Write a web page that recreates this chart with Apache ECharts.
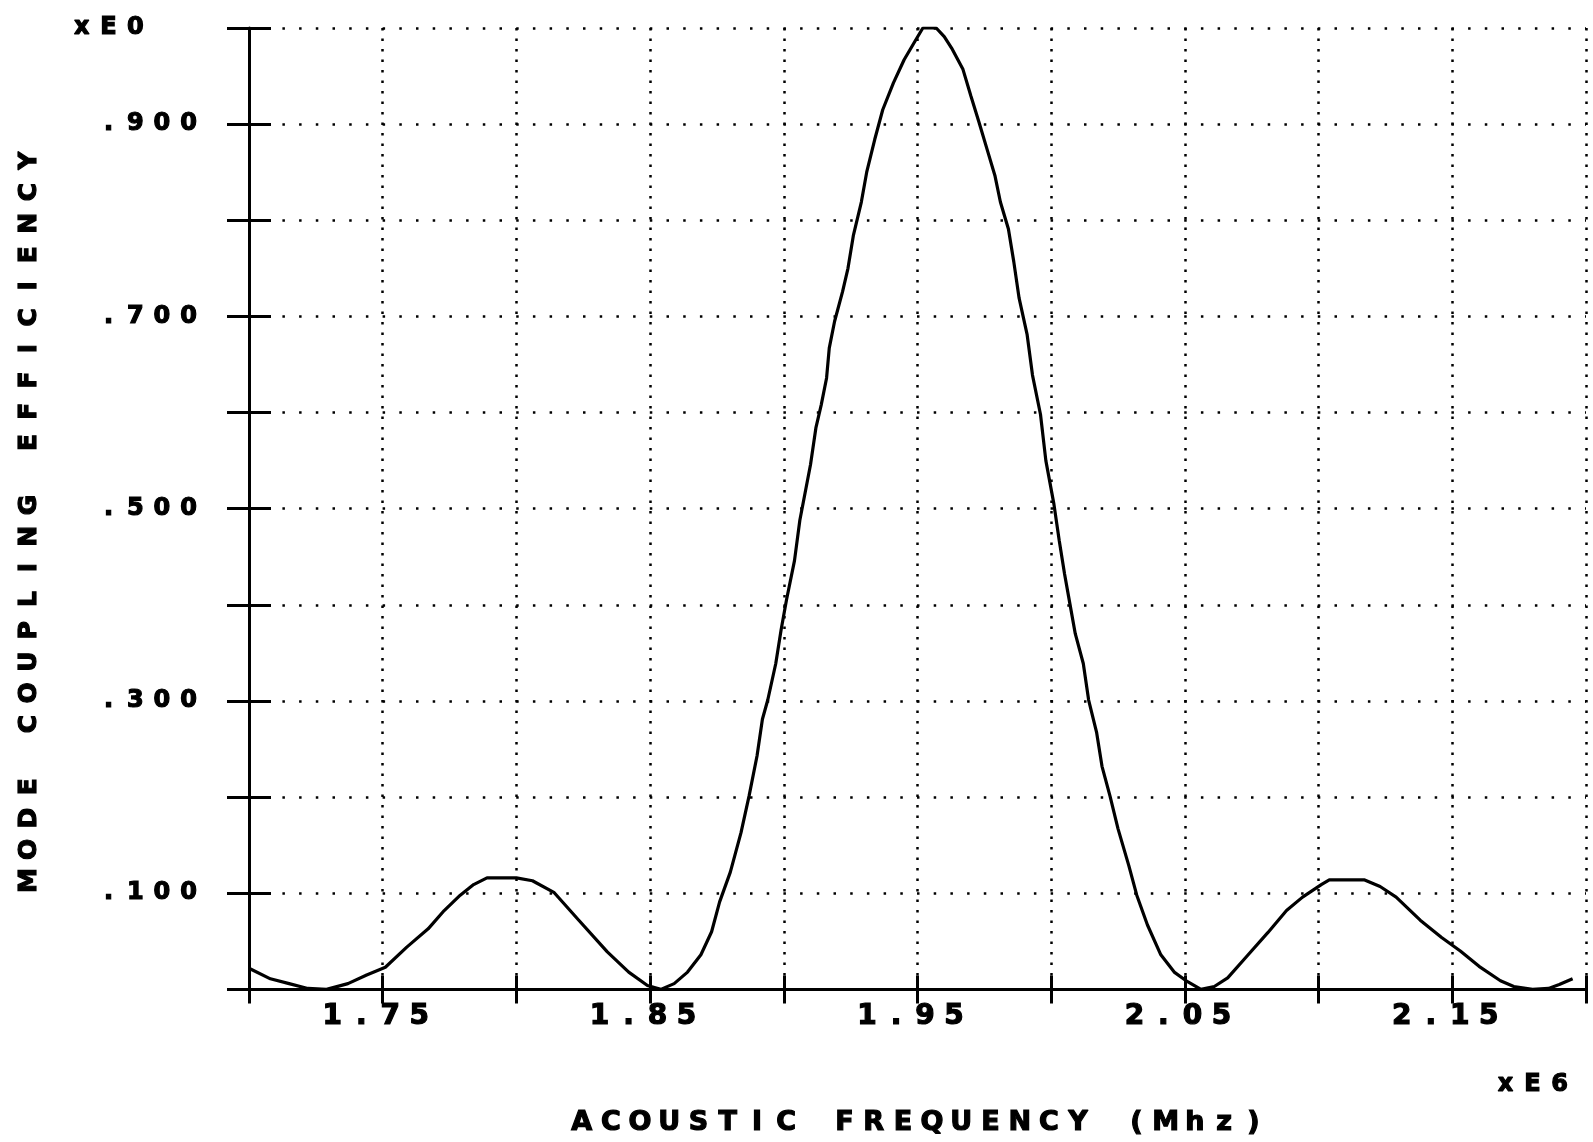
<!DOCTYPE html>
<html>
<head>
<meta charset="utf-8">
<script src="https://cdn.jsdelivr.net/npm/echarts@6/dist/echarts.min.js"></script>
<style>
  html, body { margin: 0; padding: 0; background: #fff; }
  #chart { width: 1593px; height: 1142px; }
</style>
</head>
<body>
<div id="chart"></div>
<script>
// Acoustic frequency (x1e6 Hz) and mode coupling efficiency
const freq = [
  1.700, 1.708, 1.715, 1.722, 1.729, 1.737, 1.744, 1.751, 1.759, 1.767,
  1.773, 1.779, 1.784, 1.789, 1.800, 1.806, 1.814, 1.823, 1.834, 1.842,
  1.849, 1.854, 1.859, 1.864, 1.869, 1.873, 1.876, 1.880, 1.884, 1.887,
  1.890, 1.892, 1.894, 1.897, 1.899, 1.901, 1.904, 1.906, 1.910, 1.912,
  1.914, 1.916, 1.917, 1.919, 1.922, 1.924, 1.926, 1.929, 1.931, 1.934,
  1.937, 1.941, 1.945, 1.949, 1.952, 1.957, 1.960, 1.963, 1.967, 1.970,
  1.973, 1.976, 1.979, 1.981, 1.984, 1.986, 1.988, 1.991, 1.993, 1.996,
  1.998, 2.001, 2.003, 2.005, 2.007, 2.009, 2.012, 2.014, 2.017, 2.019,
  2.022, 2.025, 2.029, 2.032, 2.036, 2.041, 2.046, 2.051, 2.056, 2.061,
  2.066, 2.073, 2.081, 2.088, 2.094, 2.101, 2.104, 2.117, 2.123, 2.129,
  2.138, 2.146, 2.153, 2.160, 2.168, 2.173, 2.180, 2.186, 2.190, 2.195
];
const eff = [
  0.022, 0.011, 0.006, 0.001, 0.000, 0.006, 0.015, 0.023, 0.044, 0.063,
  0.082, 0.098, 0.109, 0.116, 0.116, 0.113, 0.101, 0.073, 0.039, 0.018,
  0.004, 0.000, 0.006, 0.018, 0.036, 0.060, 0.091, 0.122, 0.163, 0.201,
  0.243, 0.281, 0.301, 0.339, 0.374, 0.405, 0.446, 0.488, 0.546, 0.584,
  0.608, 0.636, 0.667, 0.695, 0.726, 0.750, 0.784, 0.819, 0.850, 0.884,
  0.915, 0.943, 0.967, 0.986, 1.000, 1.000, 0.991, 0.978, 0.957, 0.929,
  0.902, 0.874, 0.846, 0.819, 0.791, 0.757, 0.719, 0.681, 0.639, 0.598,
  0.550, 0.505, 0.467, 0.432, 0.401, 0.370, 0.339, 0.301, 0.267, 0.232,
  0.201, 0.167, 0.129, 0.098, 0.067, 0.036, 0.018, 0.008, 0.000, 0.003,
  0.012, 0.034, 0.059, 0.082, 0.096, 0.109, 0.114, 0.114, 0.107, 0.096,
  0.072, 0.054, 0.040, 0.024, 0.009, 0.003, 0.000, 0.001, 0.005, 0.011
];
// Tick labels
const xLabelTexts = ['1.75', '1.85', '1.95', '2.05', '2.15'];
const yLabelTexts = ['.100', '.300', '.500', '.700', '.900'];
const yTopLabel = 'xE0';
const xScaleLabel = 'xE6';
const xTitle = 'ACOUSTIC FREQUENCY (Mhz)';
const yTitle = 'MODE COUPLING EFFICIENCY';

const FONT = '"DejaVu Sans", sans-serif';
function tok(str, style) {
  return str.split('').map(c => '{' + style + '|' + c + '}').join('');
}

const seriesData = freq.map((f, i) => [f, eff[i]]);

const chart = echarts.init(document.getElementById('chart'), null, { renderer: 'canvas' });

const charStyle = (size, width) => ({
  fontFamily: FONT, fontWeight: 'bold', fontSize: size, width: width,
  align: 'center', color: '#000', lineHeight: size,
  textBorderColor: '#000', textBorderWidth: 1.2
});

chart.setOption({
  backgroundColor: '#fff',
  animation: false,
  grid: { left: 249, right: 7, top: 28, bottom: 150 },
  xAxis: [
    {
      type: 'value', min: 1.70, max: 2.20, interval: 0.05, position: 'bottom',
      axisLine: { lineStyle: { color: '#000', width: 3 } },
      axisTick: { length: 14, lineStyle: { color: '#000', width: 3 } },
      axisLabel: {
        margin: 13,
        padding: [0, 14, 0, 0],
        formatter: function (v) {
          const s = v.toFixed(2);
          return xLabelTexts.indexOf(s) >= 0 ? tok(s, 'c') : '';
        },
        rich: { c: charStyle(28, 29) }
      },
      splitLine: { show: true, lineStyle: { color: '#000', width: 2.5, type: [2.5, 8] } },
      name: tok(xTitle, 't'),
      nameLocation: 'middle',
      nameGap: 120,
      nameTextStyle: { rich: { t: charStyle(27, 29.2) } }
    },
    {
      type: 'value', min: 1.70, max: 2.20, interval: 0.05, position: 'bottom',
      axisLine: { show: false },
      axisTick: { inside: true, length: 14, lineStyle: { color: '#000', width: 3 } },
      axisLabel: { show: false },
      splitLine: { show: false }
    }
  ],
  yAxis: [
    {
      type: 'value', min: 0, max: 1, interval: 0.1, position: 'left',
      axisLine: { lineStyle: { color: '#000', width: 3 } },
      axisTick: { length: 22, lineStyle: { color: '#000', width: 3 } },
      axisLabel: {
        margin: 47,
        formatter: function (v) {
          if (Math.abs(v - 1) < 1e-9) return tok(yTopLabel, 'c') + '{c| }{c| }';
          const s = v.toFixed(3).slice(1);
          return yLabelTexts.indexOf(s) >= 0 ? tok(s, 'c') : '';
        },
        rich: { c: charStyle(24, 26.7) }
      },
      splitLine: { show: true, lineStyle: { color: '#000', width: 2.5, type: [2.5, 14.2] } },
      name: tok(yTitle, 't') + '{g| }',
      nameLocation: 'middle',
      nameRotate: 90,
      nameGap: 207,
      nameTextStyle: {
        rich: {
          t: charStyle(25, 31.3),
          g: { width: 24, fontSize: 25 }
        }
      }
    },
    {
      type: 'value', min: 0, max: 1, interval: 0.1, position: 'left',
      axisLine: { show: false },
      axisTick: { inside: true, length: 22, lineStyle: { color: '#000', width: 3 } },
      axisLabel: { show: false },
      splitLine: { show: false }
    }
  ],
  graphic: [
    {
      type: 'text',
      right: 20,
      top: 1072,
      style: {
        text: tok(xScaleLabel, 'c'),
        rich: {
          c: {
            fontFamily: FONT, fontWeight: 'bold', fontSize: 24, width: 27,
            align: 'center', fill: '#000', stroke: '#000', lineWidth: 1.2,
            lineHeight: 24
          }
        }
      }
    }
  ],
  series: [
    {
      type: 'line',
      xAxisIndex: 0,
      yAxisIndex: 0,
      data: seriesData,
      showSymbol: false,
      symbol: 'none',
      smooth: false,
      lineStyle: { color: '#000', width: 3.2 },
      z: 5
    }
  ]
});
</script>
</body>
</html>
